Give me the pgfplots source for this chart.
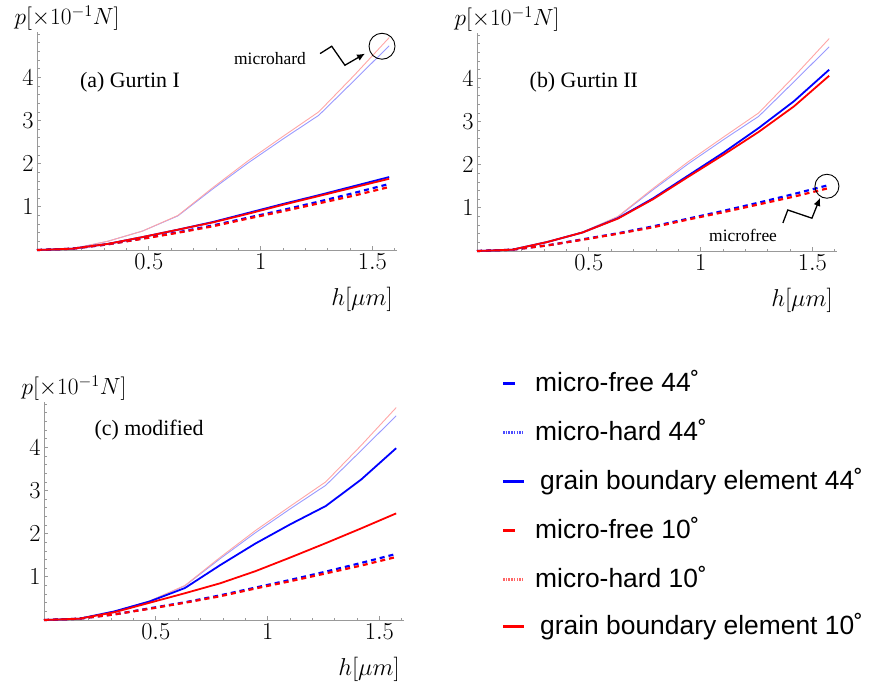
\RequirePackage{fix-cm}
\documentclass[border=0pt]{standalone}
\usepackage{fontspec}
\usepackage{pgfplots}
\usepackage{pgfplotstable}
\pgfplotsset{compat=1.18}
\usetikzlibrary{arrows.meta}
\newfontfamily\tnr{Liberation Serif}
\newfontfamily\hel{Liberation Sans}

\pgfplotstableread{
h mhA mhB mfA mfB gaA gaB gbA gbB gcA gcB
0 0 0 0 0 0 0 0 0 0 0
0.1575 0.03 0.03 0.03 0.03 0.03 0.03 0.03 0.03 0.03 0.03
0.315 0.2 0.2 0.13 0.13 0.14 0.14 0.21 0.21 0.18 0.2
0.4725 0.44 0.44 0.26 0.27 0.3 0.3 0.43 0.43 0.4 0.43
0.63 0.8 0.79 0.4 0.41 0.47 0.47 0.75 0.76 0.62 0.74
0.7875 1.45 1.42 0.55 0.57 0.64 0.65 1.2 1.22 0.85 1.27
0.945 2.07 2.02 0.73 0.75 0.84 0.86 1.72 1.75 1.13 1.77
1.1025 2.64 2.58 0.9 0.93 1.05 1.07 2.23 2.28 1.45 2.22
1.26 3.2 3.12 1.08 1.12 1.25 1.27 2.76 2.85 1.78 2.64
1.4175 4.04 3.92 1.26 1.32 1.45 1.48 3.35 3.47 2.12 3.25
1.575 4.92 4.73 1.46 1.53 1.65 1.69 4.06 4.2 2.47 3.98
}\data

\pgfplotsset{
  panel/.style={scale only axis, width=360bp, height=218bp,
    xmin=0, xmax=1.61, ymin=0, ymax=5.05,
    axis lines=left, axis line style={black!40, line width=0.9bp, -},
    tick align=inside,
    xtick={0.5,1,1.5}, ytick={1,2,3,4},
    minor xtick={0.1,0.2,0.3,0.4,0.6,0.7,0.8,0.9,1.1,1.2,1.3,1.4,1.6},
    minor ytick={0.2,0.4,0.6,0.8,1.2,1.4,1.6,1.8,2.2,2.4,2.6,2.8,3.2,3.4,3.6,3.8,4.2,4.4,4.6,4.8,5},
    major tick length=4bp, minor tick length=2.5bp,
    every tick/.style={black!40, line width=0.7bp},
    tick label style={font=\fontsize{24.5}{28}\selectfont},
    clip=false},
  mh/.style={line width=0.9bp},
  mf/.style={line width=2.2bp, dash pattern=on 5bp off 4bp},
  gb/.style={line width=1.8bp},
}
\newcommand\axlabels{%
  \node[font=\fontsize{23.5}{27}\selectfont, inner sep=1bp] at (rel axis cs:0,1) [xshift=30bp,yshift=14bp] {$p[\times 10^{-1}N]$};
  \node[font=\fontsize{24.5}{28}\selectfont] at (rel axis cs:1,0) [xshift=-35bp,yshift=-49bp] {$h[\mu m]$};
}

\begin{document}
\begin{tikzpicture}
\useasboundingbox (0,0) rectangle (875bp,-684bp);

% (a)
\begin{axis}[panel, at={(37bp,-250bp)}, anchor=south west]
\addplot[mh, blue!40] table[x=h,y=mhB] {\data};
\addplot[mh, red!35] table[x=h,y=mhA] {\data};
\addplot[mf, blue] table[x=h,y=mfB] {\data};
\addplot[mf, red] table[x=h,y=mfA] {\data};
\addplot[gb, blue] table[x=h,y=gaB] {\data};
\addplot[gb, red] table[x=h,y=gaA] {\data};
\node[font=\tnr\fontsize{22}{26}\selectfont] at (axis cs:0.416,3.89) {(a) Gurtin I};
\node[font=\tnr\fontsize{17.5}{20}\selectfont] at (axis cs:1.042,4.44) {microhard};
\draw[line width=1.3bp, -{Latex[length=8bp,width=7bp]}] (axis cs:1.266,4.55) -- (axis cs:1.318,4.72) -- (axis cs:1.377,4.28) -- (axis cs:1.467,4.55);
\draw[line width=0.9bp] (axis cs:1.543,4.72) circle[radius=13bp];
\axlabels
\end{axis}

% (b)
\begin{axis}[panel, at={(477bp,-251bp)}, anchor=south west]
\addplot[mh, blue!40] table[x=h,y=mhB] {\data};
\addplot[mh, red!35] table[x=h,y=mhA] {\data};
\addplot[mf, blue] table[x=h,y=mfB] {\data};
\addplot[mf, red] table[x=h,y=mfA] {\data};
\addplot[gb, blue] table[x=h,y=gbB] {\data};
\addplot[gb, red] table[x=h,y=gbA] {\data};
\node[font=\tnr\fontsize{22}{26}\selectfont] at (axis cs:0.478,3.91) {(b) Gurtin II};
\node[font=\tnr\fontsize{17.5}{20}\selectfont] at (axis cs:1.19,0.37) {microfree};
\draw[line width=1.3bp, -{Latex[length=8bp,width=7bp]}] (axis cs:1.368,0.65) -- (axis cs:1.39,0.95) -- (axis cs:1.498,0.76) -- (axis cs:1.534,1.23);
\draw[line width=0.9bp] (axis cs:1.565,1.50) circle[radius=12bp];
\axlabels
\end{axis}

% (c)
\begin{axis}[panel, at={(44bp,-620bp)}, anchor=south west]
\addplot[mh, blue!40] table[x=h,y=mhB] {\data};
\addplot[mh, red!35] table[x=h,y=mhA] {\data};
\addplot[mf, blue] table[x=h,y=mfB] {\data};
\addplot[mf, red] table[x=h,y=mfA] {\data};
\addplot[gb, blue] table[x=h,y=gcB] {\data};
\addplot[gb, red] table[x=h,y=gcA] {\data};
\node[font=\tnr\fontsize{22}{26}\selectfont] at (axis cs:0.47,4.4) {(c) modified};
\axlabels
\end{axis}

% legend
\begin{scope}[every node/.style={font=\hel\fontsize{26.5}{30}\selectfont, anchor=base west, inner sep=0pt}]
\draw[blue, line width=3bp] (503bp,-383bp) -- (515bp,-383bp);
\node at (535bp,-391bp) {micro-free 44˚};
\draw[blue!70, line width=3bp, dash pattern=on 1.5bp off 1.2bp] (503bp,-432bp) -- (524bp,-432bp);
\node at (535bp,-440bp) {micro-hard 44˚};
\draw[blue, line width=3bp] (503bp,-481bp) -- (524bp,-481bp);
\node at (540bp,-489bp) {grain boundary element 44˚};
\draw[red, line width=3bp] (503bp,-530bp) -- (515bp,-530bp);
\node at (535bp,-538bp) {micro-free 10˚};
\draw[red!60, line width=3bp, dash pattern=on 1.5bp off 1.2bp] (503bp,-579bp) -- (524bp,-579bp);
\node at (535bp,-587bp) {micro-hard 10˚};
\draw[red, line width=3bp] (503bp,-626bp) -- (524bp,-626bp);
\node at (540bp,-634bp) {grain boundary element 10˚};
\end{scope}
\end{tikzpicture}
\end{document}
